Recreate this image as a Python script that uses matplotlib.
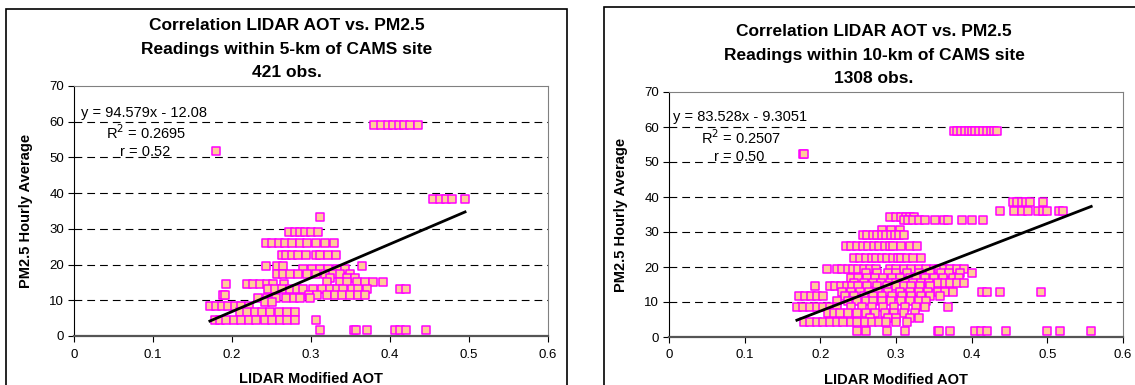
import numpy as np
import matplotlib.pyplot as plt
from matplotlib.patches import Rectangle

plt.rcParams['font.family'] = ['Liberation Sans', 'DejaVu Sans']

## the data: PM2.5 levels (rows) and the AOT readings found at each level
left_levels = [59.0, 51.9, 38.5, 33.4, 29.2, 26.1, 22.7, 19.5, 18.7, 17.4, 16.2,
               15.2, 14.6, 13.1, 11.6, 10.6, 9.6, 8.5, 6.8, 4.6, 1.8]
left_aot = [
    [0.380, 0.388, 0.397, 0.404, 0.412, 0.418, 0.425, 0.435],
    [0.180],
    [0.455, 0.463, 0.471, 0.479, 0.495],
    [0.311],
    [0.2725, 0.280, 0.286, 0.292, 0.300, 0.309],
    [0.243, 0.250, 0.259, 0.267, 0.276, 0.286, 0.295, 0.306, 0.318, 0.329],
    [0.263, 0.268, 0.276, 0.284, 0.294, 0.306, 0.311, 0.322, 0.332],
    [0.243, 0.257, 0.264, 0.365],
    [0.290, 0.301, 0.311, 0.322, 0.333, 0.343],
    [0.257, 0.265, 0.273, 0.284, 0.295, 0.306, 0.318, 0.328, 0.337, 0.349],
    [0.324, 0.345, 0.356],
    [0.320, 0.337, 0.345, 0.358, 0.368, 0.378, 0.391],
    [0.192, 0.219, 0.227, 0.235, 0.244, 0.252, 0.266],
    [0.246, 0.254, 0.263, 0.273, 0.282, 0.290, 0.303, 0.314, 0.324, 0.333,
     0.341, 0.352, 0.360, 0.371, 0.413, 0.420],
    [0.188, 0.191, 0.297, 0.307, 0.320, 0.330, 0.339, 0.350, 0.360, 0.368],
    [0.233, 0.244, 0.256, 0.268, 0.278, 0.286, 0.299],
    [0.242, 0.250],
    [0.172, 0.180, 0.187, 0.195, 0.204, 0.212, 0.221],
    [0.210, 0.219, 0.229, 0.238, 0.248, 0.259, 0.269, 0.280],
    [0.1785, 0.185, 0.193, 0.202, 0.212, 0.221, 0.231, 0.242, 0.250, 0.261,
     0.270, 0.280, 0.306],
    [0.311, 0.355, 0.357, 0.371, 0.406, 0.413, 0.420, 0.445],
]

right_levels = [58.9, 52.2, 38.5, 35.9, 34.4, 33.4, 30.6, 29.1, 26.1, 22.5, 19.3,
                18.3, 17.0, 15.4, 14.5, 13.0, 11.7, 10.3, 8.5, 6.8, 5.5, 4.4, 1.7]
right_aot = [
    [0.376, 0.381, 0.386, 0.391, 0.396, 0.401, 0.405, 0.410, 0.415, 0.420,
     0.425, 0.430, 0.434],
    [0.177, 0.179],
    [0.454, 0.460, 0.466, 0.472, 0.477, 0.494],
    [0.437, 0.456, 0.466, 0.474, 0.488, 0.494, 0.500, 0.515, 0.521],
    [0.292, 0.300, 0.306, 0.313, 0.318, 0.324],
    [0.310, 0.316, 0.323, 0.331, 0.338, 0.352, 0.364, 0.369, 0.387, 0.400, 0.415],
    [0.282, 0.293, 0.305],
    [0.256, 0.262, 0.269, 0.275, 0.281, 0.287, 0.293, 0.299, 0.304, 0.310],
    [0.234, 0.241, 0.249, 0.257, 0.263, 0.271, 0.278, 0.285, 0.292, 0.296,
     0.306, 0.318, 0.328],
    [0.244, 0.252, 0.261, 0.268, 0.274, 0.281, 0.288, 0.296, 0.302, 0.307,
     0.314, 0.322, 0.333],
    [0.209, 0.222, 0.229, 0.236, 0.243, 0.250, 0.258, 0.266, 0.274, 0.292,
     0.300, 0.310, 0.320, 0.330, 0.340, 0.350, 0.357, 0.364, 0.372, 0.380, 0.390],
    [0.260, 0.275, 0.290, 0.300, 0.315, 0.330, 0.345, 0.360, 0.370, 0.385, 0.400],
    [0.240, 0.250, 0.262, 0.272, 0.283, 0.295, 0.305, 0.318, 0.327, 0.338,
     0.350, 0.362, 0.375, 0.383],
    [0.245, 0.258, 0.270, 0.280, 0.292, 0.300, 0.312, 0.322, 0.333, 0.343,
     0.355, 0.365, 0.372, 0.380, 0.390],
    [0.193, 0.213, 0.220, 0.227, 0.235, 0.242, 0.250, 0.262, 0.275, 0.288,
     0.300, 0.310, 0.320, 0.332, 0.345],
    [0.228, 0.240, 0.252, 0.264, 0.276, 0.290, 0.305, 0.318, 0.330, 0.342,
     0.355, 0.365, 0.375, 0.413, 0.420, 0.437, 0.492],
    [0.172, 0.180, 0.188, 0.196, 0.204, 0.232, 0.245, 0.258, 0.270, 0.282,
     0.295, 0.308, 0.320, 0.333, 0.345, 0.358],
    [0.222, 0.236, 0.248, 0.260, 0.270, 0.282, 0.294, 0.306, 0.318, 0.330, 0.340],
    [0.169, 0.177, 0.186, 0.195, 0.204, 0.213, 0.222, 0.240, 0.255, 0.268,
     0.283, 0.298, 0.312, 0.326, 0.338, 0.369],
    [0.210, 0.218, 0.226, 0.236, 0.248, 0.260, 0.272, 0.285, 0.297, 0.310, 0.325],
    [0.265, 0.290, 0.300, 0.318, 0.330],
    [0.178, 0.186, 0.195, 0.204, 0.213, 0.222, 0.230, 0.240, 0.249, 0.259,
     0.268, 0.278, 0.287, 0.300, 0.314],
    [0.249, 0.261, 0.288, 0.312, 0.355, 0.357, 0.371, 0.405, 0.412, 0.420,
     0.446, 0.499, 0.517, 0.558],
]

## trend lines (slope, intercept) and stats from the chart
left_fit = (94.579, -12.08)
right_fit = (83.528, -9.3051)
left_text = ['y = 94.579x - 12.08', 'R$^2$ = 0.2695', 'r = 0.52']
right_text = ['y = 83.528x - 9.3051', 'R$^2$ = 0.2507', 'r = 0.50']
left_title = ['Correlation LIDAR AOT vs. PM2.5', 'Readings within 5-km of CAMS site', '421 obs.']
right_title = ['Correlation LIDAR AOT vs. PM2.5', 'Readings within 10-km of CAMS site', '1308 obs.']

W, H = 1135, 385
fig = plt.figure(figsize=(W / 100, H / 100), dpi=100)

# chart area borders (pixel coords -> figure fractions)
fig.patches.append(Rectangle((6 / W, -0.1), 561 / W, 1.1 - 9.5 / H, transform=fig.transFigure,
                             fill=False, edgecolor='black', linewidth=1.2))
fig.patches.append(Rectangle((604 / W, -0.1), 600 / W, 1.1 - 7.5 / H, transform=fig.transFigure,
                             fill=False, edgecolor='black', linewidth=1.2))


def panel(rect, levels, aot, fit, texts, text_xy, title, title_x, title_y):
    ax = fig.add_axes(rect)
    xs = np.concatenate([np.array(a) for a in aot])
    ys = np.concatenate([np.full(len(a), lv) for a, lv in zip(aot, levels)])
    ax.scatter(xs, ys, marker='s', s=30, facecolor='#FFCC99', edgecolor='#FF00FF',
               linewidths=1.1, zorder=3)
    xx = np.array([xs.min(), xs.max()])
    ax.plot(xx, fit[0] * xx + fit[1], color='black', lw=2, zorder=4)

    ax.set_xlim(0, 0.6)
    ax.set_ylim(0, 70)
    ax.set_xticks(np.arange(0, 0.61, 0.1))
    ax.set_xticklabels(['0', '0.1', '0.2', '0.3', '0.4', '0.5', '0.6'])
    ax.set_yticks(range(0, 71, 10))
    for g in range(10, 70, 10):
        ax.axhline(g, color='black', lw=0.8, dashes=(7, 4.5), zorder=1)
    for s in ['top', 'right']:
        ax.spines[s].set_color('#808080')
    ax.spines['left'].set_color('black')
    ax.spines['bottom'].set_color('#555555')
    ax.spines['bottom'].set_linewidth(1.6)
    ax.tick_params(direction='out', length=4, width=0.8, labelsize=9.5, pad=3)
    ax.tick_params(axis='x', pad=5)
    ax.set_xlabel('LIDAR Modified AOT', fontsize=10.5, fontweight='bold', labelpad=8)
    ax.set_ylabel('PM2.5 Hourly Average', fontsize=10.5, fontweight='bold', labelpad=12)

    for (tx, ty), t in zip(text_xy, texts):
        fig.text(tx / W, 1 - ty / H, t, fontsize=10.5, ha='left', va='center')
    for i, t in enumerate(title):
        fig.text(title_x / W, 1 - (title_y + 23.3 * i) / H, t, fontsize=12.5,
                 fontweight='bold', ha='center', va='center')
    return ax


panel([74 / W, 1 - 336 / H, 474 / W, 250 / H], left_levels, left_aot, left_fit,
      left_text, [(81, 113), (106, 133), (120, 152)], left_title, 287, 26)
panel([669 / W, 1 - 337 / H, 454 / W, 245 / H], right_levels, right_aot, right_fit,
      right_text, [(673, 117), (701, 138), (714, 157)], right_title, 874, 32)

fig.savefig('out.png', dpi=100)
